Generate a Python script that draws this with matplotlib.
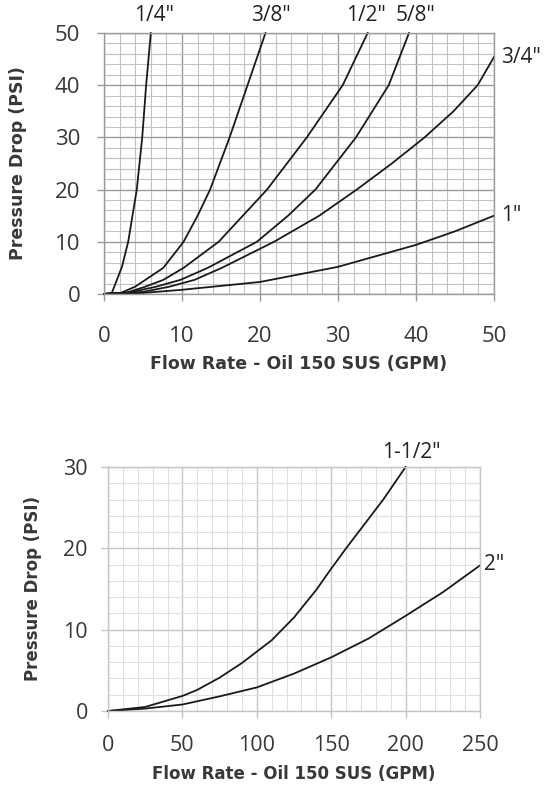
import matplotlib
matplotlib.use("Agg")
import matplotlib.pyplot as plt
from matplotlib.ticker import MultipleLocator

# ---------------- data: top chart (GPM 0-50) ----------------
top_labels = ['1/4"', '3/8"', '1/2"', '5/8"', '3/4"', '1"']
x_14 = [0, 1.0, 1.6, 2.3, 3.1, 4.2, 4.9, 5.4, 6.0]
y_14 = [0, 0.2, 2.5, 5.2, 10, 20, 30, 40, 50]
x_38 = [0, 2, 4, 5.3, 7.6, 10.2, 12.0, 13.6, 16.1, 18.4, 20.7]
y_38 = [0, 0.1, 1.4, 2.7, 5, 10, 15, 20, 30, 40, 50]
x_12 = [0, 3, 5.3, 7.6, 10.2, 14.7, 17.8, 20.9, 26.0, 30.6, 33.8]
y_12 = [0, 0.3, 1.4, 2.7, 5, 10, 15, 20, 30, 40, 50]
x_58 = [0, 3, 6.7, 9.8, 13.3, 19.6, 23.6, 27.1, 32.3, 36.5, 39.1]
y_58 = [0, 0.2, 1.4, 2.7, 5, 10, 15, 20, 30, 40, 50]
x_34 = [0, 5, 8.4, 11.6, 15.1, 21.8, 27.6, 32.4, 36.9, 41.1, 44.8, 47.9, 50]
y_34 = [0, 0.4, 1.4, 2.7, 5, 10, 15, 20, 25, 30, 35, 40, 45.4]
x_1 = [0, 5, 10, 20, 30, 40, 45, 50]
y_1 = [0, 0.2, 0.8, 2.3, 5.2, 9.4, 12.0, 15]

# ---------------- data: bottom chart (GPM 0-250) ----------------
bot_labels = ['1-1/2"', '2"']
x_112 = [0, 25, 50, 60, 75, 90, 100, 110, 125, 140, 150, 160, 175, 185, 200]
y_112 = [0, 0.5, 1.85, 2.6, 4.1, 5.9, 7.3, 8.7, 11.5, 14.9, 17.5, 20.0, 23.6, 26.0, 30]
x_2 = [0, 25, 50, 75, 100, 125, 150, 175, 200, 225, 250]
y_2 = [0, 0.3, 0.8, 1.8, 2.9, 4.6, 6.6, 8.9, 11.7, 14.6, 17.9]

top_xticks = [0, 10, 20, 30, 40, 50]
top_yticks = [0, 10, 20, 30, 40, 50]
bot_xticks = [0, 50, 100, 150, 200, 250]
bot_yticks = [0, 10, 20, 30]

xlabel = "Flow Rate - Oil 150 SUS (GPM)"
ylabel = "Pressure Drop (PSI)"

fig = plt.figure(figsize=(5.44, 7.86), dpi=100)
tick_font = "Open Sans"
lab_font = "DejaVu Sans"
txt_col = "#383838"


def style(ax, xt, yt, xminor, yminor, major_col, minor_col, tsize,
          xpad, ypad, lsize, xl_y, yl_x):
    ax.set_xticks(xt)
    ax.set_yticks(yt)
    ax.xaxis.set_minor_locator(MultipleLocator(xminor))
    ax.yaxis.set_minor_locator(MultipleLocator(yminor))
    ax.grid(which="major", color=major_col, linewidth=1.0)
    ax.grid(which="minor", color=minor_col, linewidth=0.8)
    ax.set_axisbelow(True)
    for s in ax.spines.values():
        s.set_color(major_col)
        s.set_linewidth(1.0)
    ax.tick_params(which="major", length=5, width=1.0, color=major_col,
                   labelsize=tsize, labelcolor=txt_col)
    ax.tick_params(axis="x", which="major", pad=xpad)
    ax.tick_params(axis="y", which="major", pad=ypad)
    ax.tick_params(which="minor", length=0)
    for lab in ax.get_xticklabels() + ax.get_yticklabels():
        lab.set_fontfamily(tick_font)
    ax.set_xlabel(xlabel, fontsize=lsize, fontweight="bold", color=txt_col,
                  fontfamily=lab_font)
    ax.set_ylabel(ylabel, fontsize=lsize, fontweight="bold", color=txt_col,
                  fontfamily=lab_font)
    ax.xaxis.set_label_coords(0.5, xl_y)
    ax.yaxis.set_label_coords(yl_x, 0.5)


lab_kw = dict(fontsize=15, color="#222222", fontfamily=tick_font)

# ---------- top ----------
ax1 = fig.add_axes([0.1912, 0.6260, 0.9081 - 0.1912, 0.9580 - 0.6260])
ax1.set_xlim(0, 50)
ax1.set_ylim(0, 50)
style(ax1, top_xticks, top_yticks, 2, 2, "#9a9a9a", "#c2c2c2", 16,
      18, 12, 12.5, -0.235, -0.197)
series_top = [(x_14, y_14), (x_38, y_38), (x_12, y_12), (x_58, y_58),
              (x_34, y_34), (x_1, y_1)]
for xs, ys in series_top:
    ax1.plot(xs, ys, color="#1a1a1a", linewidth=1.3, clip_on=False,
             solid_joinstyle="round")

top_label_dx = [2, 4, -1, 5]  # label nudges in points (style, not data)
for (xs, ys), lab, dx in zip(series_top[:4], top_labels[:4], top_label_dx):
    ax1.annotate(lab, (xs[-1], ys[-1]), xytext=(dx, 5), textcoords="offset points",
                 ha="center", va="bottom", **lab_kw)
for (xs, ys), lab in zip(series_top[4:], top_labels[4:]):
    ax1.annotate(lab, (xs[-1], ys[-1]), xytext=(5, 0), textcoords="offset points",
                 ha="left", va="center", **lab_kw)

# ---------- bottom ----------
ax2 = fig.add_axes([0.1985, 0.0954, 0.8824 - 0.1985, 0.4059 - 0.0954])
ax2.set_xlim(0, 250)
ax2.set_ylim(0, 30)
style(ax2, bot_xticks, bot_yticks, 10, 2, "#c6c6c6", "#e0e0e0", 15.5,
      12, 9.5, 12, -0.221, -0.177)
series_bot = [(x_112, y_112), (x_2, y_2)]
for xs, ys in series_bot:
    ax2.plot(xs, ys, color="#1a1a1a", linewidth=1.3, clip_on=False,
             solid_joinstyle="round")
ax2.annotate(bot_labels[0], (x_112[-1], y_112[-1]), xytext=(4, 3),
             textcoords="offset points", ha="center", va="bottom", **lab_kw)
ax2.annotate(bot_labels[1], (x_2[-1], y_2[-1]), xytext=(3, 1),
             textcoords="offset points", ha="left", va="center", **lab_kw)

fig.savefig("out.png", dpi=100)
